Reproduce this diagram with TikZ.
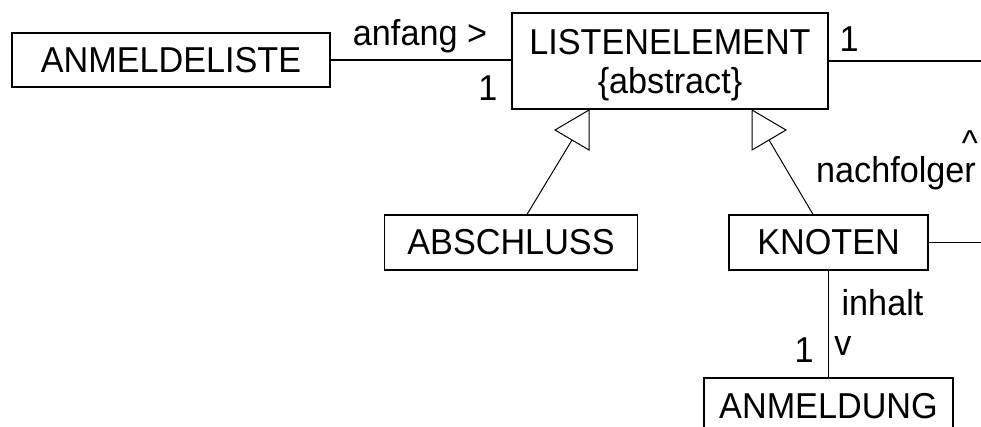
\documentclass[tikz,border=0pt]{standalone}
\usepackage{fontspec}
\setmainfont{Liberation Sans}[FakeStretch=0.95]
\begin{document}
\begin{tikzpicture}[x=1pt, y=-1pt, line width=1.2pt,
  uml/.style={font=\fontsize{36}{39}\selectfont},
  cls/.style={uml, draw, inner sep=0pt, align=center},
  lbl/.style={uml, inner sep=0pt, anchor=base}]
\useasboundingbox (0,0) rectangle (981,426);
\clip (0,0) rectangle (981,426);

% classes
\node[cls, minimum width=318pt, minimum height=54pt] (liste) at (171,60) {ANMELDELISTE};
\node[cls, minimum width=316pt, minimum height=96pt, text depth=0pt] (elem) at (670,61) {LISTENELEMENT\\\{abstract\}};
\node[cls, minimum width=253pt, minimum height=55pt] (abs) at (511,242.5) {ABSCHLUSS};
\node[cls, minimum width=199pt, minimum height=55pt] (knot) at (828.5,242.5) {KNOTEN};
\node[cls, minimum width=249pt, minimum height=56pt] (anm) at (828.5,406) {ANMELDUNG};

% free ends of the self association
\coordinate (selfA) at (981,61);
\coordinate (selfB) at (981,242.5);

% associations
\draw (liste.east) -- (liste.east -| elem.west);
\draw (elem.east |- selfA) -- (selfA);
\draw (knot.east) -- (selfB);
\draw (knot.south) -- (anm.north);

% generalization arrows
\coordinate (genL) at (572,140);
\coordinate (genR) at (769,140);
\draw[line width=1pt] (589,110) -- (589,150) -- (555,130) -- cycle;
\draw[line width=1pt] (752,110) -- (752,150) -- (786,130) -- cycle;
\draw[line width=1pt] ([xshift=16pt]abs.north) -- (genL);
\draw[line width=1pt] ([xshift=-15.5pt]knot.north) -- (genR);

% role names and multiplicities
\node[lbl] (anfang) at (420,45) {anfang >};
\node[lbl] (mulA) at (488,100) {1};
\node[lbl] (mulB) at (849,51) {1};
\node[lbl] (up) at (970,155) {\textasciicircum};
\node[lbl] (nachf) at (896,182) {nachfolger};
\node[lbl] (inhalt) at (882.5,315) {inhalt};
\node[lbl] (down) at (843,355) {v};
\node[lbl] (mulC) at (804,362) {1};
\end{tikzpicture}
\end{document}
